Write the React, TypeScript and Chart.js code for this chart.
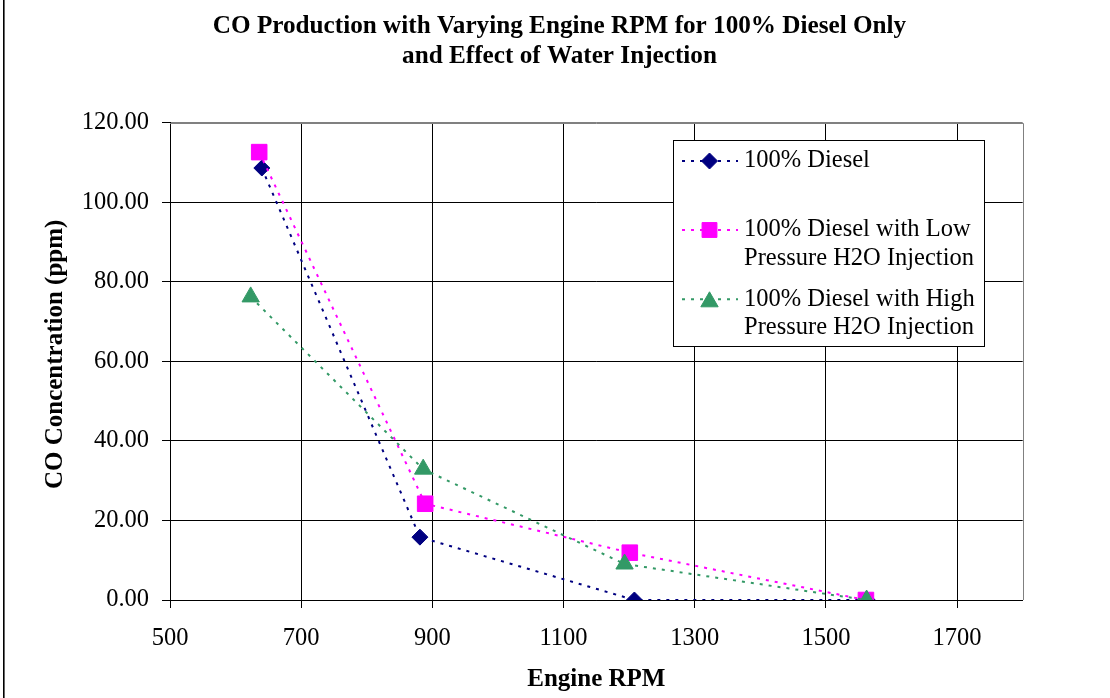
import React, { useEffect, useRef } from "react";
import { Chart, registerables } from "chart.js";

Chart.register(...registerables);

// ---------- data ----------
const titleLines = [
  "CO Production with Varying Engine RPM for 100% Diesel Only",
  "and Effect of Water Injection",
];
const xAxisTitle = "Engine RPM";
const yAxisTitle = "CO Concentration (ppm)";

const xTickValues = [500, 700, 900, 1100, 1300, 1500, 1700];
const xMin = 500;
const xMax = 1800;
const yMin = 0;
const yMax = 120;
const yStep = 20;

const seriesNames = [
  "100% Diesel",
  "100% Diesel with Low Pressure H2O Injection",
  "100% Diesel with High Pressure H2O Injection",
];
const legendLines = [
  ["100% Diesel"],
  ["100% Diesel with Low", "Pressure H2O Injection"],
  ["100% Diesel with High", "Pressure H2O Injection"],
];

const dieselRpm = [640, 881, 1208, 1563];
const dieselCo = [108.6, 15.8, 0, 0];
const lowRpm = [636, 889, 1201, 1561];
const lowCo = [112.6, 24.2, 11.9, 0];
const highRpm = [623, 886, 1193, 1562];
const highCo = [76.2, 32.9, 9.05, 0];

const colors = ["#000080", "#FF00FF", "#339966"];
const markerStyles = ["rectRot", "rect", "triangle"];
const markerRadii = [8, 11, 10];

const FONT = "'Liberation Serif', 'Times New Roman', serif";

function toPoints(xs: number[], ys: number[]) {
  return xs.map((x, i) => ({ x, y: ys[i] }));
}

function drawMarker(
  ctx: CanvasRenderingContext2D,
  style: string,
  x: number,
  y: number,
  r: number,
  color: string
) {
  ctx.save();
  ctx.setLineDash([]);
  ctx.fillStyle = color;
  ctx.strokeStyle = color;
  ctx.lineWidth = 1;
  ctx.beginPath();
  if (style === "rectRot") {
    ctx.moveTo(x - r, y);
    ctx.lineTo(x, y - r);
    ctx.lineTo(x + r, y);
    ctx.lineTo(x, y + r);
  } else if (style === "rect") {
    const s = r * Math.SQRT1_2;
    ctx.rect(x - s, y - s, 2 * s, 2 * s);
  } else {
    const h = 1.5 * r;
    const w = Math.sqrt(3) * r;
    ctx.moveTo(x, y - h / 2);
    ctx.lineTo(x + w / 2, y + h / 2);
    ctx.lineTo(x - w / 2, y + h / 2);
  }
  ctx.closePath();
  ctx.fill();
  ctx.stroke();
  ctx.restore();
}

const framePlugin = {
  id: "framePlugin",
  beforeDatasetsDraw(chart: any) {
    const { ctx, chartArea } = chart;
    ctx.save();
    ctx.strokeStyle = "#808080";
    ctx.lineWidth = 1;
    ctx.beginPath();
    const r = Math.round(chartArea.right) + 0.5;
    const t = Math.round(chartArea.top) + 0.5;
    ctx.moveTo(Math.round(chartArea.left), t);
    ctx.lineTo(r, t);
    ctx.lineTo(r, Math.round(chartArea.bottom));
    ctx.stroke();
    ctx.restore();
  },
  afterDraw(chart: any) {
    const { ctx, chartArea } = chart;
    ctx.save();
    // outer chart frame (left edge visible)
    ctx.fillStyle = "#000";
    ctx.fillRect(3, 0, 1.6, chart.height);
    // y axis title
    ctx.translate(56, (chartArea.top + chartArea.bottom) / 2 - 7);
    ctx.rotate(-Math.PI / 2);
    ctx.font = `bold 25px ${FONT}`;
    ctx.textAlign = "center";
    ctx.textBaseline = "middle";
    ctx.fillText(yAxisTitle, 0, 0);
    ctx.restore();
  },
};

const legendPlugin = {
  id: "boxLegend",
  afterDraw(chart: any) {
    const { ctx } = chart;
    const bx = 673.5;
    const by = 140.5;
    const bw = 311;
    const bh = 206;
    ctx.save();
    ctx.fillStyle = "#fff";
    ctx.fillRect(bx, by, bw, bh);
    ctx.strokeStyle = "#000";
    ctx.lineWidth = 1;
    ctx.strokeRect(bx, by, bw, bh);

    const entryY = [161, 230, 299.3];
    const lineGap = 28.5;
    legendLines.forEach((lines, i) => {
      const y = entryY[i];
      ctx.save();
      ctx.strokeStyle = colors[i];
      ctx.lineWidth = 2;
      ctx.setLineDash([3, 6]);
      ctx.beginPath();
      ctx.moveTo(682, y);
      ctx.lineTo(738, y);
      ctx.stroke();
      ctx.restore();
      drawMarker(ctx, markerStyles[i], 709.5, y, markerRadii[i] - (i === 1 ? 0.5 : 0), colors[i]);
      ctx.fillStyle = "#000";
      ctx.font = `24.5px ${FONT}`;
      ctx.textBaseline = "middle";
      ctx.textAlign = "left";
      lines.forEach((txt, j) => {
        ctx.fillText(txt, 744, y + j * lineGap);
      });
    });
    ctx.restore();
  },
};

export default function App() {
  const canvasRef = useRef<HTMLCanvasElement | null>(null);

  useEffect(() => {
    document.body.style.margin = "0";
    const canvas = canvasRef.current;
    if (!canvas) return;

    const rawSeries = [
      toPoints(dieselRpm, dieselCo),
      toPoints(lowRpm, lowCo),
      toPoints(highRpm, highCo),
    ];

    const datasets = rawSeries.map((data, i) => ({
      label: seriesNames[i],
      data,
      showLine: true,
      borderColor: colors[i],
      backgroundColor: colors[i],
      borderWidth: 2,
      borderDash: [3, 6],
      pointStyle: markerStyles[i] as any,
      pointRadius: markerRadii[i],
      pointHoverRadius: markerRadii[i],
      pointBackgroundColor: colors[i],
      pointBorderColor: colors[i],
      pointBorderWidth: 1,
      tension: 0,
      order: 2 - i,
    }));

    const chart = new Chart(canvas, {
      type: "scatter",
      data: { datasets },
      plugins: [framePlugin, legendPlugin],
      options: {
        responsive: false,
        animation: false,
        devicePixelRatio: 1,
        layout: { padding: { left: 9, right: 0, top: 0, bottom: 0 } },
        plugins: {
          legend: { display: false },
          tooltip: { enabled: false },
          title: {
            display: true,
            text: titleLines,
            color: "#000",
            font: { family: FONT, size: 25.2, weight: "bold", lineHeight: 1.2 },
            padding: { top: 11, bottom: 51.2 },
          },
        },
        scales: {
          x: {
            type: "linear",
            min: xMin,
            max: xMax,
            afterBuildTicks: (scale: any) => {
              scale.ticks = xTickValues.map((v) => ({ value: v }));
            },
            afterFit: (scale: any) => {
              scale.height = 98;
            },
            grid: {
              color: "#000",
              lineWidth: 1,
              drawTicks: true,
              tickLength: 8,
              tickColor: "#000",
            },
            border: { color: "#000", width: 1 },
            ticks: {
              color: "#000",
              font: { family: FONT, size: 24.5 },
              padding: 16,
              maxRotation: 0,
              autoSkip: false,
              callback: (v: any) => String(v),
            },
            title: {
              display: true,
              text: xAxisTitle,
              color: "#000",
              font: { family: FONT, size: 25, weight: "bold", lineHeight: 1.2 },
              padding: { top: 0, bottom: 3 },
            },
          },
          y: {
            type: "linear",
            min: yMin,
            max: yMax,
            afterFit: (scale: any) => {
              scale.width = 161;
            },
            grid: {
              color: (c: any) => (c.tick && c.tick.value === yMax ? "#808080" : "#000"),
              lineWidth: 1,
              drawTicks: true,
              tickLength: 8,
              tickColor: "#000",
            },
            border: { color: "#000", width: 1 },
            ticks: {
              stepSize: yStep,
              color: "#000",
              font: { family: FONT, size: 24.5 },
              padding: 13,
              callback: (v: any) => Number(v).toFixed(2),
            },
          },
          yRight: {
            type: "linear",
            position: "right",
            min: yMin,
            max: yMax,
            display: true,
            afterFit: (scale: any) => {
              scale.width = 87.3;
            },
            grid: { display: false, drawTicks: false },
            border: { display: false },
            ticks: { display: false },
          },
        },
      },
    });

    return () => {
      chart.destroy();
    };
  }, []);

  return (
    <div style={{ width: 1110, height: 698, background: "#fff" }}>
      <canvas ref={canvasRef} width={1110} height={698} style={{ display: "block", width: 1110, height: 698 }} />
    </div>
  );
}
